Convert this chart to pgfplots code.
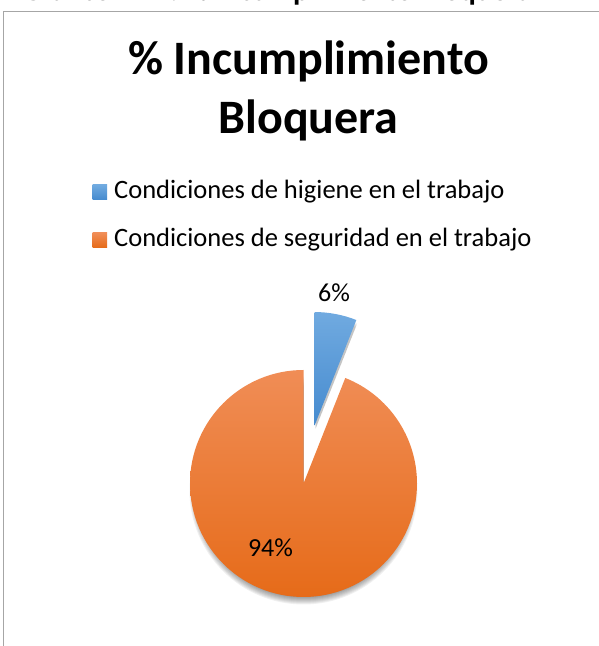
\documentclass[border=0pt]{standalone}
\usepackage{fontspec}
\setmainfont{Carlito}
\usepackage{pgfplots}
\usepackage{pgfplotstable}
\pgfplotsset{compat=1.18}

\definecolor{bluetop}{RGB}{112,170,224}
\definecolor{bluebot}{RGB}{70,139,207}
\definecolor{orangetop}{RGB}{240,141,86}
\definecolor{orangebot}{RGB}{230,107,25}
\definecolor{framegray}{RGB}{166,166,166}

% porcentaje de incumplimiento por tipo de condicion
\pgfplotstableread{
tipo      valor
higiene   6
seguridad 94
}\incumplimiento

\pgfplotstablegetelem{0}{valor}\of\incumplimiento \let\vHig\pgfplotsretval
\pgfplotstablegetelem{1}{valor}\of\incumplimiento \let\vSeg\pgfplotsretval

% geometry of the pie (pixel units of the reference, y downwards)
\def\cx{303.5}
\def\cy{-483.5}
\def\R{113.5}
\pgfmathsetmacro\angHig{360*\vHig/(\vHig+\vSeg)}
\pgfmathsetmacro\midHig{90-\angHig/2}
\pgfmathsetmacro\bx{\cx+59*cos(\midHig)}
\pgfmathsetmacro\by{\cy+59*sin(\midHig)}
\pgfmathsetmacro\endSeg{90-\angHig+360}

\begin{document}
\begin{tikzpicture}
\useasboundingbox (0,0) rectangle (599pt,646pt);
\clip (0,0) rectangle (599pt,646pt);
\begin{axis}[
    at={(0,0)}, anchor=south west,
    x=1pt, y=1pt,
    xmin=0, xmax=599, ymin=-646, ymax=0,
    hide axis, clip=false,
    legend style={at={(axis cs:92.7,-182)}, anchor=north west,
                  draw=none, fill=none, inner sep=0pt, outer sep=0pt,
                  row sep=26pt, column sep=0pt,
                  font=\fontsize{26.5}{31}\selectfont,
                  cells={anchor=base west},
                  nodes={inner sep=0pt, text height=17pt, text depth=5pt}},
  ]
  % frame of the chart area
  \draw[framegray, line width=1pt]
    (axis cs:3.5,-646) -- (axis cs:3.5,-11.5) -- (axis cs:600,-11.5);

  % soft shadows under the slices
  \pgfplotsinvokeforeach{0,1,2,3,4,5,6,7,8,9}{
    \fill[black, opacity=0.06]
      (axis cs:\cx,\cy-7) -- ++(90:{105pt+#1*1pt})
      arc[start angle=90, end angle=\endSeg, radius={105pt+#1*1pt}] -- cycle;
  }
  \pgfplotsinvokeforeach{0,1,2,3,4}{
    \fill[black, opacity=0.05]
      (axis cs:\bx+1,\by-3) -- ++(90:{109pt+#1*1pt})
      arc[start angle=90, end angle={90-\angHig}, radius={109pt+#1*1pt}] -- cycle;
  }

  % pie slices
  \shade[top color=orangetop, bottom color=orangebot, draw=none]
    (axis cs:\cx,\cy) -- ++(90:\R pt)
    arc[start angle=90, end angle=\endSeg, radius=\R pt] -- cycle;
  \shade[top color=bluetop, bottom color=bluebot, draw=none]
    (axis cs:\bx,\by) -- ++(90:\R pt)
    arc[start angle=90, end angle={90-\angHig}, radius=\R pt] -- cycle;

  % data labels
  \node[anchor=base, font=\fontsize{26}{31}\selectfont]
    at (axis cs:334,-302) {\vHig\%};
  \node[anchor=base, font=\fontsize{26}{31}\selectfont]
    at (axis cs:270.5,-557) {\vSeg\%};

  % titles
  \node[anchor=base, font=\fontsize{48}{56}\bfseries\selectfont]
    at (axis cs:308.5,-75) {\% Incumplimiento};
  \node[anchor=base, font=\fontsize{48}{56}\bfseries\selectfont]
    at (axis cs:308.5,-134) {Bloquera};
  \node[anchor=base west, inner sep=0pt, font=\fontsize{30}{36}\bfseries\selectfont]
    at (axis cs:22,-0.5) {Gráfico N° 1: \% Incumplimiento Bloquera};

  % legend
  \addlegendimage{legend image code/.code={
    \shade[top color=bluetop, bottom color=bluebot, draw=none] (0pt,-0.5pt) rectangle (14.5pt,14pt);}}
  \addlegendentry{\hspace{7pt}Condiciones de higiene en el trabajo}
  \addlegendimage{legend image code/.code={
    \shade[top color=orangetop, bottom color=orangebot, draw=none] (0pt,-0.5pt) rectangle (14.5pt,14pt);}}
  \addlegendentry{\hspace{7pt}Condiciones de seguridad en el trabajo}
\end{axis}
\end{tikzpicture}
\end{document}
